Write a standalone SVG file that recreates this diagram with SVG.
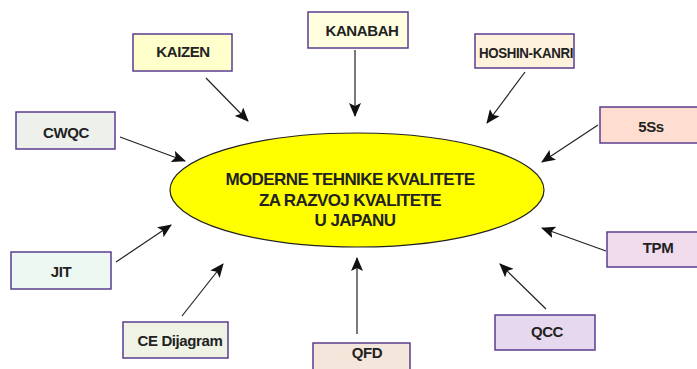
<svg xmlns="http://www.w3.org/2000/svg" width="697" height="369" viewBox="0 0 697 369">
<style>
.box{stroke:#5a3e8e;stroke-width:1.5}
.lbl{font-family:"Liberation Sans",Arial,sans-serif;font-weight:bold;font-size:15px;fill:#222;text-anchor:middle;letter-spacing:-0.4px}
.ct{font-family:"Liberation Sans",Arial,sans-serif;font-weight:bold;font-size:17px;fill:#222;text-anchor:middle;letter-spacing:-0.6px}
.conn{stroke:#222;stroke-width:1.2;fill:none;marker-end:url(#ah)}
</style>
<defs>
<marker id="ah" viewBox="0 0 14 12" refX="13" refY="6" markerWidth="14" markerHeight="12" markerUnits="userSpaceOnUse" orient="auto">
<path d="M0,0 L14,6 L0,12 L3,6 Z" fill="#111"/>
</marker>
</defs>
<rect width="697" height="369" fill="#fff"/>
<g id="connectors">
<line class="conn" x1="206" y1="78" x2="248" y2="121"/>
<line class="conn" x1="355" y1="50" x2="355" y2="116"/>
<line class="conn" x1="525" y1="72" x2="487" y2="123"/>
<line class="conn" x1="598" y1="125" x2="542" y2="162"/>
<line class="conn" x1="120" y1="137" x2="185" y2="161"/>
<line class="conn" x1="116" y1="262" x2="171" y2="225"/>
<line class="conn" x1="182" y1="316" x2="223" y2="264"/>
<line class="conn" x1="357" y1="334" x2="357" y2="258"/>
<line class="conn" x1="546" y1="309" x2="500" y2="264"/>
<line class="conn" x1="606" y1="251" x2="542" y2="228"/>
</g>
<g id="center">
<ellipse cx="357" cy="190" rx="187" ry="57" fill="#ffff00" stroke="#222" stroke-width="1.2"/>
<text class="ct" x="350" y="185">MODERNE TEHNIKE KVALITETE</text>
<text class="ct" x="350" y="206">ZA RAZVOJ KVALITETE</text>
<text class="ct" x="355" y="226">U JAPANU</text>
</g>
<g id="kaizen"><rect class="box" x="133" y="34" width="99" height="37" fill="#ffffcc"/><text class="lbl" x="183" y="57">KAIZEN</text></g>
<g id="kanabah"><rect class="box" x="308" y="12" width="100" height="36" fill="#ffffe0"/><text class="lbl" x="362" y="36">KANABAH</text></g>
<g id="hoshin"><rect class="box" x="475" y="34" width="99" height="34" fill="#fff2dd"/><text class="lbl" x="526" y="58" textLength="94" lengthAdjust="spacingAndGlyphs">HOSHIN-KANRI</text></g>
<g id="s5"><rect class="box" x="600" y="107" width="99" height="36" fill="#ffddd0"/><text class="lbl" x="651" y="132">5Ss</text></g>
<g id="cwqc"><rect class="box" x="16" y="112" width="99" height="37" fill="#eef0ec"/><text class="lbl" x="66" y="138">CWQC</text></g>
<g id="jit"><rect class="box" x="11" y="252" width="100" height="37" fill="#eef8f2"/><text class="lbl" x="61" y="277">JIT</text></g>
<g id="ce"><rect class="box" x="123" y="322" width="105" height="36" fill="#eef3e6"/><text class="lbl" x="180" y="346">CE Dijagram</text></g>
<g id="qfd"><rect class="box" x="313" y="343" width="97" height="30" fill="#f5e6dc"/><text class="lbl" x="367" y="358">QFD</text></g>
<g id="qcc"><rect class="box" x="495" y="315" width="100" height="35" fill="#e6d8ee"/><text class="lbl" x="547" y="337">QCC</text></g>
<g id="tpm"><rect class="box" x="607" y="232" width="92" height="35" fill="#f0dcec"/><text class="lbl" x="658" y="253">TPM</text></g>
</svg>
